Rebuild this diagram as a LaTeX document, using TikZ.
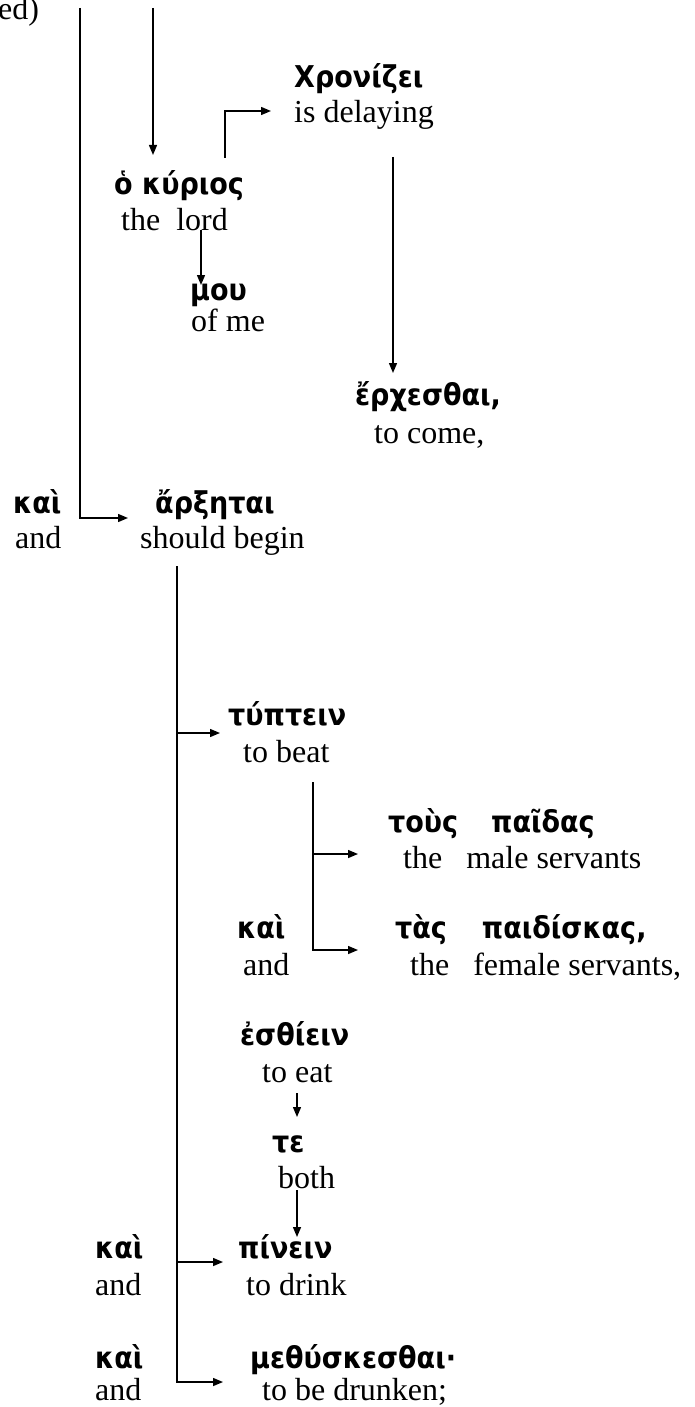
\documentclass[tikz,border=0pt]{standalone}
\usepackage{fontspec}
\setmainfont{Liberation Serif}
\newfontfamily\grk[FakeStretch=0.9]{DejaVu Sans}
\usetikzlibrary{arrows.meta}

\begin{document}
\begin{tikzpicture}[x=1pt,y=-1pt,
  gr/.style={anchor=base west,inner sep=0pt,font=\grk\bfseries\fontsize{30}{34}\selectfont},
  en/.style={anchor=base west,inner sep=0pt,font=\fontsize{32}{36}\selectfont},
  ln/.style={line width=1.4pt},
  arr/.style={ln,-{Triangle[length=10pt,width=8pt]}}]
\useasboundingbox (0,0) rectangle (695,1407);

% words: Greek above, English gloss below
\node[en] (ed) at (-2,20) {ed)};
\node[gr] (chron) at (294,88) {Χρονίζει};
\node[en] (delay) at (294,123) {is delaying};
\node[gr] (kyr) at (114,195) {ὁ κύριος};
\node[en] (lord) at (121,230) {the\ \ lord};
\node[gr] (mou) at (190,300) {μου};
\node[en] (ofme) at (191,331) {of me};
\node[gr] (erx) at (355,405) {ἔρχεσθαι,};
\node[en] (come) at (374,443) {to come,};
\node[gr] (kaiA) at (13,513) {καὶ};
\node[en] (andA) at (15,548) {and};
\node[gr] (arx) at (155,513) {ἄρξηται};
\node[en] (begin) at (140,548) {should begin};
\node[gr] (typ) at (228,725) {τύπτειν};
\node[en] (beat) at (243,762) {to beat};
\node[gr] (tous) at (388,832) {τοὺς\hspace{33pt}παῖδας};
\node[en] (male) at (403,868) {the\ \ \ male servants};
\node[gr] (kaiB) at (237,938) {καὶ};
\node[en] (andB) at (243,975) {and};
\node[gr] (tas) at (395,938) {τὰς\hspace{35pt}παιδίσκας,};
\node[en] (female) at (410,975) {the\ \ \ female servants,};
\node[gr] (esth) at (240,1045) {ἐσθίειν};
\node[en] (eat) at (262,1082) {to eat};
\node[gr] (te) at (272,1152) {τε};
\node[en] (both) at (278,1188) {both};
\node[gr] (kaiC) at (95,1258) {καὶ};
\node[en] (andC) at (95,1295) {and};
\node[gr] (pin) at (238,1258) {πίνειν};
\node[en] (drink) at (246,1295) {to drink};
\node[gr] (kaiD) at (95,1368) {καὶ};
\node[en] (andD) at (95,1400) {and};
\node[gr] (meth) at (250,1368) {μεθύσκεσθαι·};
\node[en] (drunk) at (262,1400) {to be drunken;};

% junction points of the connectors
\coordinate (aTop) at (80,8);
\coordinate (arxIn) at (128,518);
\coordinate (bTop) at (153,8);
\coordinate (kyrIn) at (153,155);
\coordinate (kyrOut) at (225,158);
\coordinate (chronIn) at (271,111);
\coordinate (lordOut) at (201,230);
\coordinate (mouIn) at (201,285);
\coordinate (delayOut) at (393,157);
\coordinate (erxIn) at (393,373);
\coordinate (beginOut) at (177,566);
\coordinate (typIn) at (220,733);
\coordinate (pinIn) at (223,1262);
\coordinate (methIn) at (223,1382);
\coordinate (beatOut) at (313,782);
\coordinate (tousIn) at (358,854);
\coordinate (tasIn) at (358,950);
\coordinate (eatOut) at (297,1093);
\coordinate (teIn) at (297,1117);
\coordinate (bothOut) at (297,1190);
\coordinate (pinTop) at (297,1237);

% connectors
\draw[arr] (aTop) |- (arxIn);
\draw[arr] (bTop) -- (kyrIn);
\draw[arr] (kyrOut) |- (chronIn);
\draw[arr] (lordOut) -- (mouIn);
\draw[arr] (delayOut) -- (erxIn);
\draw[arr] (beginOut) |- (methIn);
\draw[arr] (beginOut |- typIn) -- (typIn);
\draw[arr] (beginOut |- pinIn) -- (pinIn);
\draw[arr] (beatOut) |- (tasIn);
\draw[arr] (beatOut |- tousIn) -- (tousIn);
\draw[arr] (eatOut) -- (teIn);
\draw[arr] (bothOut) -- (pinTop);
\end{tikzpicture}
\end{document}
